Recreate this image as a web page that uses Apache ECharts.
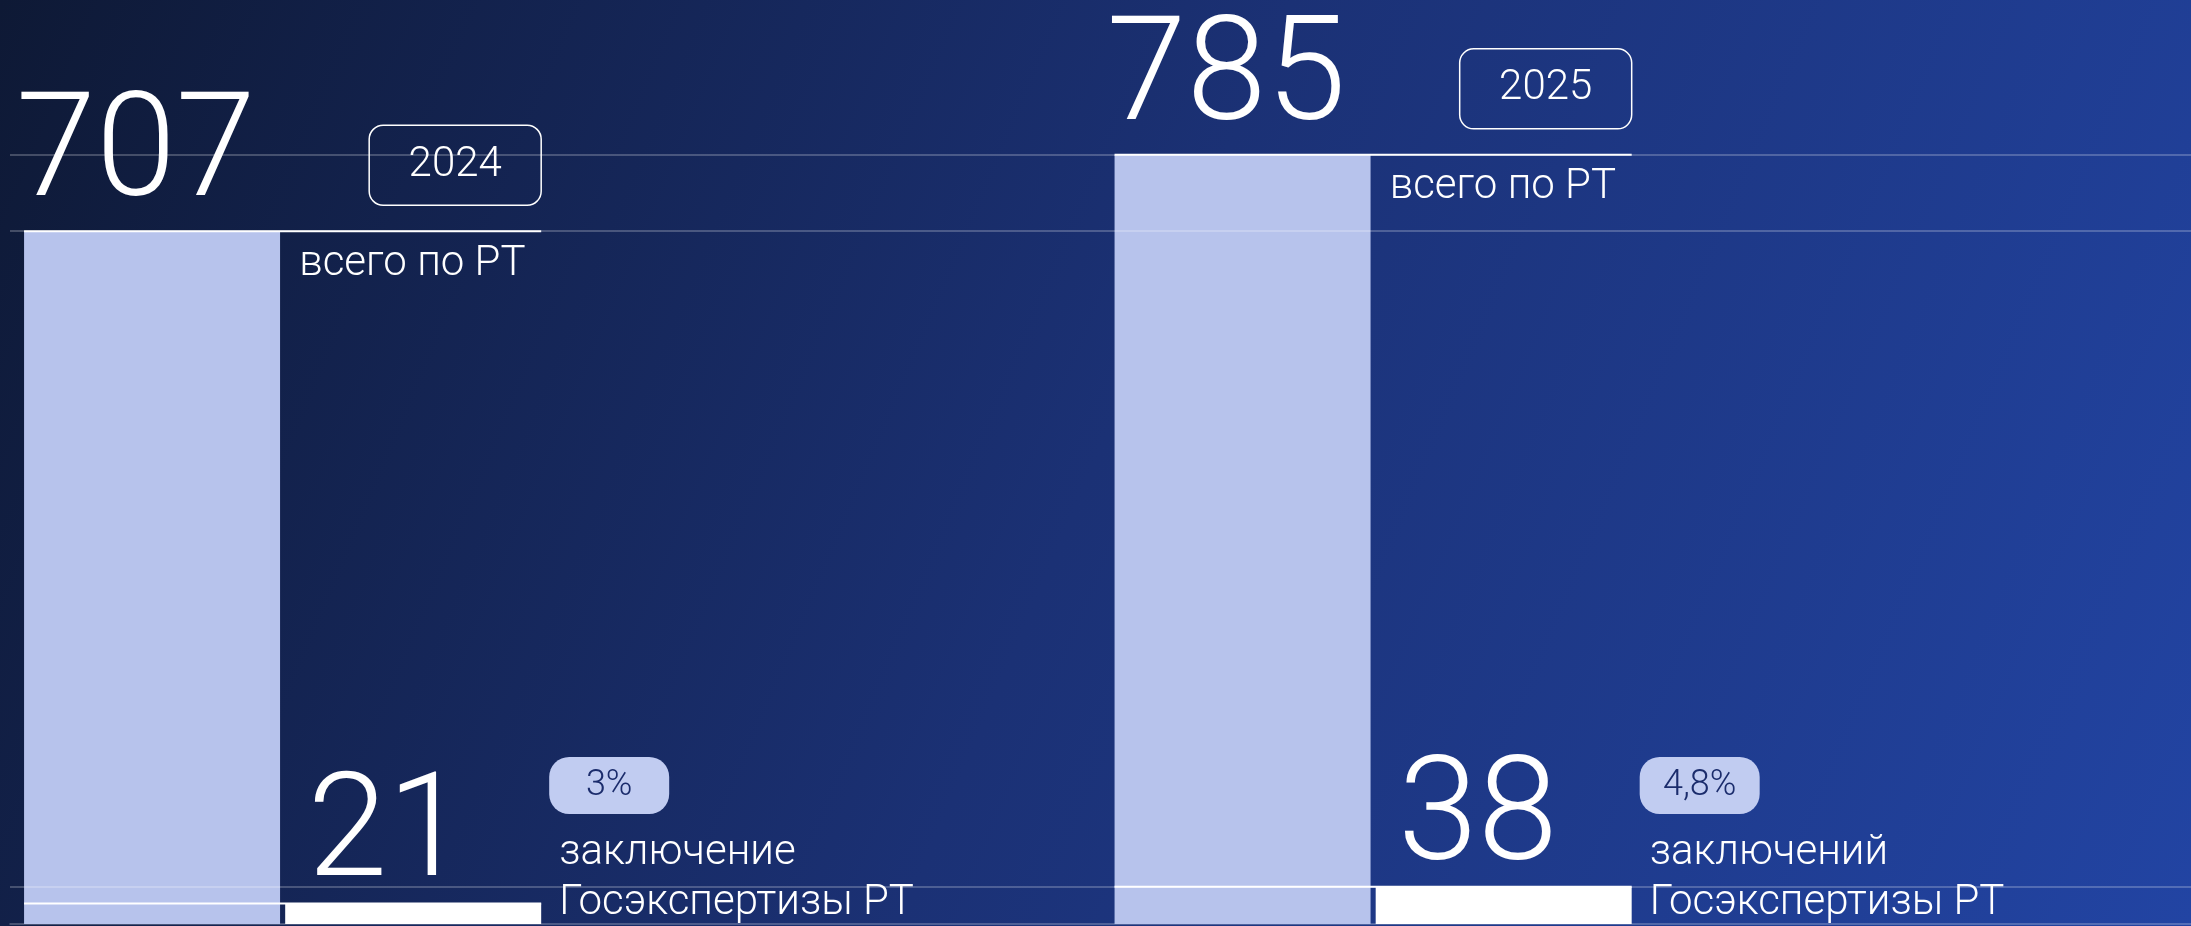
<!DOCTYPE html>
<html>
<head>
<meta charset="utf-8">
<title>Заключения Госэкспертизы РТ</title>
<script src="https://cdn.jsdelivr.net/npm/echarts@6/dist/echarts.min.js"></script>
<style>
  html, body { margin: 0; padding: 0; }
  #chart { width: 2191px; height: 926px; }
</style>
</head>
<body>
<div id="chart"></div>
<script>
// данные
var years = ['2024', '2025'];
var totalValues = [707, 785];      // всего по РТ
var expertValues = [21, 38];       // заключения Госэкспертизы РТ
var shareLabels = ['3%', '4,8%'];
var totalCaption = 'всего по РТ';
var expertCaptions = [
    ['заключение', 'Госэкспертизы РТ'],
    ['заключений', 'Госэкспертизы РТ']
];

var FONT = 'Roboto, "Noto Sans", sans-serif';
var BAR_W = 256;
var BAR_GAP = 2; // % от ширины столбца

// после каждого года пустой слот - место под подписи
var categories = [];
var totalData = [];
var expertData = [];
years.forEach(function (y, i) {
    categories.push(y, '');
    totalData.push(totalValues[i], null);
    expertData.push(expertValues[i], null);
});
var overlayData = years.map(function (y, i) {
    return [i * 2, totalValues[i], expertValues[i], i];
});

function txt(text, x, y, size, opts) {
    opts = opts || {};
    return {
        type: 'text',
        z2: 10,
        style: {
            text: text,
            x: x,
            y: y,
            fill: opts.fill || '#ffffff',
            font: '300 ' + size + 'px ' + FONT,
            align: opts.align || 'left',
            verticalAlign: 'middle'
        }
    };
}

function renderGroup(params, api) {
    var cat = api.value(0);
    var i = api.value(3);
    var zero = api.coord([cat, 0]);
    var yTotal = api.coord([cat, api.value(1)])[1];
    var yExpert = api.coord([cat, api.value(2)])[1];
    var gap = BAR_W * BAR_GAP / 100;
    var groupW = BAR_W * 2 + gap;
    var x0 = zero[0] - groupW / 2;
    var x1 = x0 + groupW;
    var xMid = x0 + BAR_W + gap; // левый край второго столбца
    var yZero = zero[1];

    return {
        type: 'group',
        children: [
            // белые линии по ширине группы
            { type: 'line', shape: { x1: x0, y1: yTotal, x2: x1, y2: yTotal },
              style: { stroke: '#ffffff', lineWidth: 2 } },
            { type: 'line', shape: { x1: x0, y1: yExpert, x2: x1, y2: yExpert },
              style: { stroke: '#ffffff', lineWidth: 2 } },
            // всего
            txt(String(api.value(1)), x0 - 8, yTotal - 72, 144),
            // год в рамке
            { type: 'rect', shape: { x: x1 - 172, y: yTotal - 106, width: 172, height: 80, r: 14 },
              style: { fill: 'none', stroke: '#ffffff', lineWidth: 1.5 } },
            txt(years[i], x1 - 86, yTotal - 66, 42, { align: 'center' }),
            txt(totalCaption, xMid + 14, yTotal + 33, 42),
            // Госэкспертиза
            txt(String(api.value(2)), xMid + 182, yExpert - 64, 144, { align: 'right' }),
            { type: 'rect', shape: { x: x1 + 8, y: yZero - 167, width: 120, height: 57, r: 20 },
              style: { fill: '#c1ccf1' } },
            txt(shareLabels[i], x1 + 68, yZero - 138, 36, { align: 'center', fill: '#1b2c6c' }),
            txt(expertCaptions[i][0], x1 + 18, yZero - 71, 42),
            txt(expertCaptions[i][1], x1 + 18, yZero - 21, 42)
        ]
    };
}

var guideLine = {
    silent: true,
    symbol: 'none',
    label: { show: false },
    lineStyle: { color: 'rgba(255,255,255,0.3)', width: 1.5, type: 'solid' }
};

var chart = echarts.init(document.getElementById('chart'));
chart.setOption({
    animation: false,
    backgroundColor: new echarts.graphic.LinearGradient(0, 0, 1, 1, [
        { offset: 0, color: '#0e1935' },
        { offset: 0.5, color: '#1b3175' },
        { offset: 1, color: '#2244a3' }
    ]),
    grid: { left: 10, right: 0, top: 0, bottom: 2 },
    xAxis: {
        type: 'category',
        data: categories,
        axisLine: { show: true, lineStyle: { color: 'rgba(255,255,255,0.3)', width: 1.5 } },
        axisTick: { show: false },
        axisLabel: { show: false }
    },
    yAxis: {
        type: 'value',
        min: 0,
        max: 943,
        show: false,
        splitLine: { show: false }
    },
    series: [
        {
            name: 'всего по РТ',
            type: 'bar',
            data: totalData,
            barWidth: BAR_W,
            barGap: BAR_GAP + '%',
            itemStyle: { color: '#b7c3ec' },
            markLine: Object.assign({
                data: totalValues.map(function (v) { return { yAxis: v }; })
            }, guideLine)
        },
        {
            name: 'Госэкспертиза РТ',
            type: 'bar',
            data: expertData,
            barWidth: BAR_W,
            itemStyle: { color: '#ffffff' },
            markLine: Object.assign({
                data: [{ yAxis: Math.max.apply(null, expertValues) }]
            }, guideLine)
        },
        {
            type: 'custom',
            coordinateSystem: 'cartesian2d',
            data: overlayData,
            encode: { x: 0, y: 1 },
            renderItem: renderGroup,
            silent: true,
            z: 5
        }
    ]
});
</script>
</body>
</html>
